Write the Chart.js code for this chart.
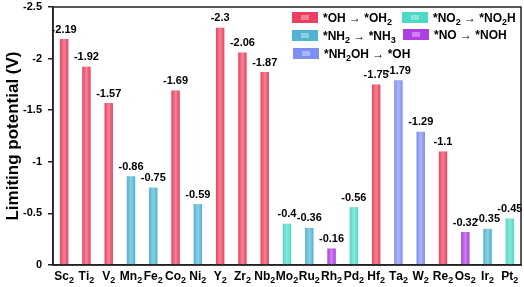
<!DOCTYPE html>
<html>
<head>
<meta charset="utf-8">
<script src="https://cdn.jsdelivr.net/npm/chart.js@4"></script>
<style>
  body { margin: 0; background: #fff; }
  canvas { display: block; }
</style>
</head>
<body>
<canvas id="grafica" width="524" height="287"></canvas>
<script>
const categorias = ["Sc₂", "Ti₂", "V₂", "Mn₂", "Fe₂", "Co₂", "Ni₂", "Y₂", "Zr₂", "Nb₂", "Mo₂",
    "Ru₂", "Rh₂", "Pd₂", "Hf₂", "Ta₂", "W₂", "Re₂", "Os₂", "Ir₂", "Pt₂"];
const potenciales = [-2.19, -1.92, -1.57, -0.86, -0.75, -1.69, -0.59, -2.3, -2.06, -1.87, -0.4,
    -0.36, -0.16, -0.56, -1.75, -1.79, -1.29, -1.1, -0.32, -0.35, -0.45];
// paso limitante de cada barra (indice en pasos)
const tipoPaso = [0, 0, 0, 1, 1, 0, 1, 0, 0, 0, 3, 1, 4, 3, 0, 2, 2, 0, 4, 1, 3];
const pasos = ["*OH → *OH₂", "*NH₂ → *NH₃", "*NH₂OH → *OH", "*NO₂ → *NO₂H", "*NO → *NOH"];
const coloresPaso = ["#e9415f", "#4fb3d1", "#7d8ff0", "#4ed9c6", "#ad3fe2"];
const yTicks = [0, -0.5, -1, -1.5, -2, -2.5];

const fuente = "'Liberation Sans', Arial, sans-serif";
const subs = { "₂": "2", "₃": "3" };

// texto con subindices: los caracteres ₂ ₃ se dibujan pequeños y mas abajo
function textoRico(ctx, texto, x, y, size, alinear) {
    const partes = [...texto].map((c) => ({ t: subs[c] || c, sub: !!subs[c] }));
    const ancho = (p) => {
        ctx.font = "bold " + (p.sub ? Math.round(size * 0.72) : size) + "px " + fuente;
        return ctx.measureText(p.t).width;
    };
    let total = 0;
    partes.forEach((p) => (total += ancho(p)));
    let cx = alinear === "center" ? x - total / 2 : x;
    ctx.textAlign = "left";
    ctx.textBaseline = "alphabetic";
    partes.forEach((p) => {
        const w = ancho(p);
        ctx.fillText(p.t, cx, p.sub ? y + size * 0.22 : y);
        cx += w;
    });
}

const marco = {
    id: "marco",
    afterDraw(chart) {
        const { ctx, chartArea: a } = chart;
        ctx.save();
        ctx.strokeStyle = "#222";
        ctx.lineWidth = 1.5;
        ctx.strokeRect(a.left, a.top, a.right - a.left, a.bottom - a.top);
        ctx.restore();
    },
};

// brillo central de las barras + etiquetas de valor
const brillo = {
    id: "brillo",
    afterDatasetsDraw(chart) {
        const ctx = chart.ctx;
        const meta = chart.getDatasetMeta(0);
        ctx.save();
        meta.data.forEach((bar, i) => {
            const w = bar.width;
            const g = ctx.createLinearGradient(bar.x - w / 2, 0, bar.x + w / 2, 0);
            g.addColorStop(0, "rgba(255,255,255,0)");
            g.addColorStop(0.5, "rgba(255,255,255,0.35)");
            g.addColorStop(1, "rgba(255,255,255,0)");
            ctx.fillStyle = g;
            ctx.fillRect(bar.x - w / 2, bar.y, w, bar.base - bar.y);

            ctx.fillStyle = "#000";
            ctx.font = "bold 11px " + fuente;
            ctx.textAlign = "center";
            ctx.textBaseline = "bottom";
            ctx.fillText(String(potenciales[i]), bar.x, bar.y - 4);
        });
        ctx.restore();
    },
};

// etiquetas del eje x con subindices
const etiquetasX = {
    id: "etiquetasX",
    afterDraw(chart) {
        const ctx = chart.ctx;
        const x = chart.scales.x;
        ctx.save();
        ctx.fillStyle = "#000";
        categorias.forEach((c, i) => {
            textoRico(ctx, c, x.getPixelForTick(i), x.top + 15, 12, "center");
        });
        ctx.restore();
    },
};

const leyenda = {
    id: "leyenda",
    afterDraw(chart) {
        const { ctx, chartArea: a } = chart;
        const filas = [
            [0, a.right - 229, a.top + 5],
            [1, a.right - 229, a.top + 23],
            [2, a.right - 228, a.top + 41],
            [3, a.right - 119, a.top + 5],
            [4, a.right - 118, a.top + 22],
        ];
        ctx.save();
        filas.forEach(([k, x, y]) => {
            ctx.fillStyle = coloresPaso[k];
            ctx.fillRect(x, y, 26, 11);
            ctx.fillStyle = "rgba(255,255,255,0.35)";
            ctx.fillRect(x + 9, y + 3, 8, 5);
            ctx.fillStyle = "#000";
            textoRico(ctx, pasos[k], x + 31, y + 10, 12, "left");
        });
        ctx.restore();
    },
};

const grafica = new Chart(document.getElementById("grafica"), {
    type: "bar",
    data: {
        labels: categorias,
        datasets: [
            {
                data: potenciales,
                backgroundColor: tipoPaso.map((t) => coloresPaso[t]),
                borderWidth: 0,
                barPercentage: 0.38,
                categoryPercentage: 1,
            },
        ],
    },
    options: {
        responsive: false,
        devicePixelRatio: 1,
        animation: false,
        layout: { padding: { top: 7, right: 3, left: 0, bottom: 0 } },
        plugins: {
            legend: { display: false },
            tooltip: { enabled: false },
        },
        scales: {
            x: {
                grid: { display: false },
                border: { color: "#222", width: 1.5 },
                ticks: { display: false },
                afterFit(scale) { scale.height = 22; },
            },
            y: {
                reverse: true,
                min: -2.5,
                max: 0,
                grid: { drawOnChartArea: false, color: "#222", tickLength: 5, lineWidth: 1.5 },
                border: { color: "#222", width: 1.5 },
                afterBuildTicks(scale) {
                    scale.ticks = yTicks.map((v) => ({ value: v }));
                },
                ticks: {
                    color: "#000",
                    font: { family: fuente, size: 11, weight: "bold" },
                    padding: 6,
                    callback: (v) => String(v),
                },
                title: {
                    display: true,
                    text: "Limiting potential (V)",
                    color: "#000",
                    font: { family: fuente, size: 17, weight: "bold" },
                    padding: { top: 3, bottom: 4 },
                },
                afterFit(scale) {
                    scale.width = 53;
                    scale.paddingTop = 0;
                    scale.paddingBottom = 0;
                },
            },
        },
    },
    plugins: [brillo, marco, etiquetasX, leyenda],
});
</script>
</body>
</html>
